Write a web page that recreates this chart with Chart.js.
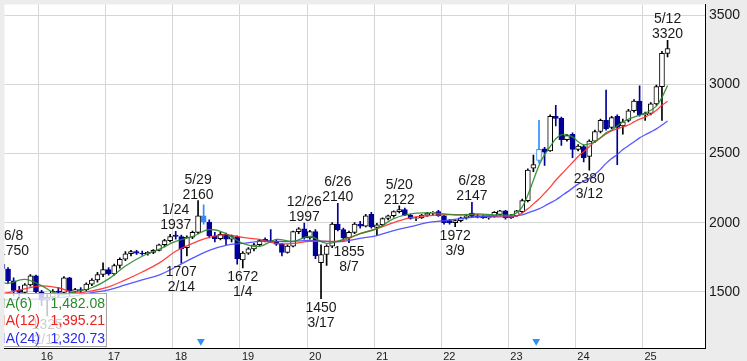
<!DOCTYPE html>
<html>
<head>
<meta charset="utf-8">
<script src="https://cdn.jsdelivr.net/npm/chart.js@4.4.1/dist/chart.umd.min.js"></script>
<style>
  html, body { margin: 0; padding: 0; background: #ececec; }
  #c { display: block; }
</style>
</head>
<body>
<canvas id="c" width="747" height="361" style="width:747px;height:361px"></canvas>
<script>
// monthly candles, 2015-06 .. 2025-05
const months = [
  '2015-06','2015-07','2015-08','2015-09','2015-10','2015-11','2015-12',
  '2016-01','2016-02','2016-03','2016-04','2016-05','2016-06','2016-07','2016-08','2016-09','2016-10','2016-11','2016-12',
  '2017-01','2017-02','2017-03','2017-04','2017-05','2017-06','2017-07','2017-08','2017-09','2017-10','2017-11','2017-12',
  '2018-01','2018-02','2018-03','2018-04','2018-05','2018-06','2018-07','2018-08','2018-09','2018-10','2018-11','2018-12',
  '2019-01','2019-02','2019-03','2019-04','2019-05','2019-06','2019-07','2019-08','2019-09','2019-10','2019-11','2019-12',
  '2020-01','2020-02','2020-03','2020-04','2020-05','2020-06','2020-07','2020-08','2020-09','2020-10','2020-11','2020-12',
  '2021-01','2021-02','2021-03','2021-04','2021-05','2021-06','2021-07','2021-08','2021-09','2021-10','2021-11','2021-12',
  '2022-01','2022-02','2022-03','2022-04','2022-05','2022-06','2022-07','2022-08','2022-09','2022-10','2022-11','2022-12',
  '2023-01','2023-02','2023-03','2023-04','2023-05','2023-06','2023-07','2023-08','2023-09','2023-10','2023-11','2023-12',
  '2024-01','2024-02','2024-03','2024-04','2024-05','2024-06','2024-07','2024-08','2024-09','2024-10','2024-11','2024-12',
  '2025-01','2025-02','2025-03','2025-04','2025-05'
];
const opens = [
  1700,1665,1580,1510,1495,1550,1615,
  1500,1440,1460,1505,1495,1600,1505,1515,1515,1555,1585,1625,
  1660,1630,1690,1735,1775,1790,1780,1775,1785,1800,1840,1870,
  1910,1900,1820,1895,1930,2050,2005,1905,1885,1915,1880,1900,
  1730,1780,1810,1840,1880,1870,1865,1845,1785,1830,1935,1955,
  1890,1935,1710,1770,1830,1990,1950,1890,1930,1990,1975,2060,
  1965,1985,2030,2050,2080,2095,2055,2030,2035,2055,2070,2080,
  2050,2015,2000,2015,2035,2070,2050,2045,2035,2045,2060,2085,
  2035,2050,2080,2160,2395,2450,2535,2520,2770,2755,2600,2640,
  2530,2550,2480,2590,2660,2740,2690,2770,2700,2740,2810,2880,
  2780,2790,2860,2985,3225
];
const highs = [
  1750,1675,1600,1540,1560,1625,1620,
  1510,1480,1515,1530,1610,1605,1525,1530,1565,1595,1640,1710,
  1675,1700,1745,1790,1800,1800,1795,1790,1805,1845,1880,1915,
  1937,1910,1905,1940,2160,2130,2020,1930,1930,1925,1910,1905,
  1790,1820,1850,1880,1890,1950,1880,1850,1840,1940,1965,1997,
  1945,1950,1840,1840,2000,2140,1960,1940,2000,2010,2060,2075,
  1995,2035,2055,2085,2122,2105,2060,2040,2060,2075,2080,2090,
  2055,2025,2020,2040,2055,2147,2060,2055,2050,2080,2090,2090,
  2060,2090,2170,2390,2490,2740,2545,2780,2850,2765,2640,2650,
  2565,2560,2600,2670,2750,2960,2770,2780,2750,2820,2890,2990,
  2800,2870,2995,3240,3320
];
const lows = [
  1640,1560,1470,1450,1485,1540,1490,
  1400,1325,1440,1460,1480,1470,1490,1495,1505,1545,1570,1610,
  1620,1620,1670,1725,1760,1770,1765,1765,1775,1795,1825,1860,
  1880,1707,1760,1885,1920,1990,1890,1860,1875,1840,1860,1700,
  1672,1770,1795,1830,1860,1855,1835,1760,1780,1825,1920,1880,
  1880,1740,1450,1690,1820,1940,1880,1855,1920,1960,1970,1960,
  1910,1975,2020,2040,2070,2050,2025,2015,2030,2045,2055,2045,
  1990,1990,1972,2005,2025,2040,2035,2030,2025,2040,2055,2025,
  2030,2045,2070,2150,2370,2430,2415,2515,2700,2560,2590,2470,
  2520,2440,2380,2580,2650,2670,2680,2420,2640,2730,2800,2770,
  2740,2780,2850,2740,3200
];
const closes = [
  1665,1580,1510,1495,1550,1615,1500,
  1440,1460,1505,1495,1600,1505,1515,1510,1555,1585,1625,1660,
  1630,1690,1735,1775,1790,1780,1775,1785,1800,1840,1870,1900,
  1900,1810,1895,1930,2050,2005,1905,1885,1915,1880,1900,1740,
  1780,1810,1840,1870,1868,1865,1845,1785,1830,1935,1955,1890,
  1935,1760,1770,1830,1990,1950,1890,1930,1990,1975,2050,1970,
  1985,2030,2050,2080,2095,2055,2030,2035,2055,2070,2075,2050,
  2000,2000,2015,2035,2050,2045,2040,2035,2045,2075,2085,2035,
  2050,2085,2160,2380,2420,2530,2510,2770,2755,2600,2630,2530,
  2555,2470,2590,2660,2740,2680,2760,2690,2730,2810,2880,2780,
  2790,2860,2985,3225,3260
];
// months drawn in light blue (adjusted), and split markers
const adjusted = ['2018-06', '2023-06'];
const splitDates = ['2018-06-01', '2023-06-01'];
const splitLevel = 1141;

// moving averages
const maMonths = [
  '2015-06','2015-07','2015-10','2016-01','2016-04','2016-07','2016-10',
  '2017-01','2017-04','2017-07','2017-10','2018-01','2018-04','2018-07','2018-10',
  '2019-01','2019-04','2019-07','2019-10','2020-01','2020-04','2020-07','2020-10',
  '2021-01','2021-04','2021-07','2021-10','2022-01','2022-04','2022-07','2022-10',
  '2023-01','2023-02','2023-03','2023-04','2023-05','2023-06','2023-07','2023-08','2023-09','2023-10','2023-11','2023-12',
  '2024-01','2024-02','2024-03','2024-04','2024-05','2024-06','2024-07','2024-08','2024-09','2024-10','2024-11','2024-12',
  '2025-01','2025-02','2025-03','2025-04','2025-05'
];
const ma6 = [
  1570,1560,1590,1545,1480,1500,1529,
  1593,1686,1757,1807,1864,1900,1950,1921,
  1850,1829,1879,1864,1900,1850,1879,1921,
  1957,2029,2064,2071,2064,2057,2064,2057,
  2057,2071,2114,2200,2307,2414,2493,2550,2607,2636,2636,2621,
  2586,2564,2571,2586,2614,2650,2671,2700,2729,2750,2764,2779,
  2793,2814,2843,2907,2993
];
const ma12 = [
  1490,1493,1521,1543,1529,1493,1507,
  1536,1586,1643,1707,1793,1850,1893,1914,
  1893,1879,1850,1850,1864,1864,1871,1921,
  1957,2000,2036,2050,2057,2057,2057,2050,
  2050,2050,2071,2100,2136,2171,2214,2257,2307,2350,2393,2436,
  2479,2514,2550,2586,2614,2643,2664,2679,2693,2707,2729,2750,
  2764,2786,2814,2850,2879
];
const ma24 = [
  1440,1443,1443,1450,1457,1471,1493,
  1514,1550,1586,1621,1679,1743,1800,1836,
  1850,1864,1864,1864,1871,1864,1864,1886,
  1907,1943,1971,2000,2014,2029,2043,2043,
  2043,2050,2057,2071,2086,2100,2121,2143,2164,2193,2221,2250,
  2279,2300,2321,2350,2386,2429,2464,2493,2529,2557,2586,2614,
  2636,2657,2679,2707,2736
];

// high / low notes
const noteMonths = ['2015-06','2016-02','2018-01','2018-02','2018-05','2019-01','2019-12','2020-03','2020-06','2020-08','2021-05','2022-03','2022-06','2024-03','2025-05'];
const noteDates  = ['6/8','2/12','1/24','2/14','5/29','1/4','12/26','3/17','6/26','8/7','5/20','3/9','6/28','3/12','5/12'];
const notePrices = [1750,1325,1937,1707,2160,1672,1997,1450,2140,1855,2122,1972,2147,2380,3320];
const noteSide   = ['high','low','high','low','high','low','high','low','high','low','high','low','high','low','high'];

const legendNames  = ['MA(6)', 'MA(12)', 'MA(24)'];
const legendValues = ['1,482.08', '1,395.21', '1,320.73'];

const yearTicks = [2016, 2017, 2018, 2019, 2020, 2021, 2022, 2023, 2024, 2025];
const priceTicks = [1500, 2000, 2500, 3000, 3500];

const NAVY = '#000096';
const LBLUE = '#2f8dff';
const GREEN = 'rgba(40,140,40,0.9)';
const RED = 'rgba(255,45,45,0.9)';
const BLUE = 'rgba(70,70,255,0.9)';
const FONT = '"Liberation Sans", Arial, sans-serif';

function monthX(s) {
  const p = s.split('-').map(Number);
  if (p.length === 3) return p[0] + (p[1] - 1) / 12 + (p[2] - 1) / 365;
  return p[0] + (p[1] - 0.5) / 12;
}

const isUp = months.map((m, i) => closes[i] >= opens[i]);
const isAdj = months.map(m => adjusted.includes(m));
const edgeColor = months.map((m, i) => isAdj[i] ? LBLUE : (isUp[i] ? '#000' : NAVY));
const fillColor = months.map((m, i) => isUp[i] ? '#fff' : (isAdj[i] ? LBLUE : NAVY));

function maData(arr) {
  return maMonths.map((m, i) => ({ x: monthX(m), y: arr[i] }));
}

const bgPlugin = {
  id: 'bg',
  beforeDraw(chart) {
    const { ctx, chartArea: a } = chart;
    ctx.save();
    ctx.fillStyle = '#ececec';
    ctx.fillRect(0, 0, chart.width, chart.height);
    ctx.fillStyle = '#fff';
    ctx.fillRect(a.left, a.top, a.right - a.left, a.bottom - a.top);
    ctx.restore();
  }
};

const notesPlugin = {
  id: 'notes',
  afterDatasetsDraw(chart) {
    const { ctx, scales: { x, y }, chartArea } = chart;
    ctx.save();
    ctx.beginPath();
    ctx.rect(chartArea.left, chartArea.top, chartArea.right - chartArea.left, chartArea.bottom - chartArea.top);
    ctx.clip();
    ctx.font = '14px ' + FONT;
    ctx.fillStyle = '#1a1a1a';
    ctx.textAlign = 'center';
    ctx.textBaseline = 'alphabetic';
    noteMonths.forEach((m, i) => {
      const px = Math.max(x.getPixelForValue(monthX(m)), chartArea.left + 9);
      const py = y.getPixelForValue(notePrices[i]);
      if (noteSide[i] === 'high') {
        ctx.fillText(String(notePrices[i]), px, py - 2);
        ctx.fillText(noteDates[i], px, py - 17);
      } else {
        ctx.fillText(String(notePrices[i]), px, py + 13);
        ctx.fillText(noteDates[i], px, py + 28);
      }
    });

    // MA legend box, bottom left
    ctx.fillStyle = 'rgba(255,255,255,0.78)';
    ctx.fillRect(-2, 293, 109, 53);
    ctx.strokeStyle = '#a8a8a8';
    ctx.lineWidth = 1;
    ctx.strokeRect(-2.5, 293.5, 109, 53);
    const colors = ['#2a8a2a', '#ee2020', '#2a2aee'];
    legendNames.forEach((n, i) => {
      const by = 307.5 + i * 17.5;
      ctx.fillStyle = colors[i];
      ctx.textAlign = 'left';
      ctx.fillText(n, -6, by);
      ctx.textAlign = 'right';
      ctx.fillText(legendValues[i], 105, by);
    });
    ctx.restore();
  }
};

new Chart(document.getElementById('c'), {
  type: 'bar',
  data: {
    datasets: [
      {
        type: 'line',
        data: splitDates.map(d => ({ x: monthX(d), y: splitLevel })),
        showLine: false,
        pointStyle: 'triangle',
        rotation: 180,
        pointRadius: 4.5,
        pointBackgroundColor: LBLUE,
        pointBorderColor: LBLUE,
        pointBorderWidth: 0,
        order: 0
      },
      {
        type: 'line', data: maData(ma6), borderColor: GREEN, borderWidth: 1.3,
        pointRadius: 0, tension: 0.4, fill: false, order: 1
      },
      {
        type: 'line', data: maData(ma12), borderColor: RED, borderWidth: 1.3,
        pointRadius: 0, tension: 0.4, fill: false, order: 2
      },
      {
        type: 'line', data: maData(ma24), borderColor: BLUE, borderWidth: 1.3,
        pointRadius: 0, tension: 0.4, fill: false, order: 3
      },
      {
        type: 'bar',
        data: months.map((m, i) => ({ x: monthX(m), y: [opens[i], closes[i]] })),
        backgroundColor: fillColor,
        borderColor: edgeColor,
        borderWidth: 1,
        borderSkipped: false,
        barThickness: 5,
        grouped: false,
        order: 5
      },
      {
        type: 'bar',
        data: months.map((m, i) => ({ x: monthX(m), y: [lows[i], highs[i]] })),
        backgroundColor: edgeColor,
        borderWidth: 0,
        barThickness: 1,
        grouped: false,
        order: 6
      }
    ]
  },
  options: {
    responsive: false,
    animation: false,
    layout: { padding: 0 },
    plugins: { legend: { display: false }, tooltip: { enabled: false } },
    scales: {
      x: {
        type: 'linear',
        min: 2016 - 34.5 / 67.5,
        max: 2016 + (705 - 34.5) / 67.5,
        offset: false,
        afterBuildTicks: s => { s.ticks = yearTicks.map(v => ({ value: v })); },
        afterFit: s => { s.height = 13; s.paddingLeft = 0; s.paddingRight = 0; },
        grid: { color: '#d6d6d6', lineWidth: 1, drawTicks: false, offset: false },
        border: { display: true, color: '#000', width: 1 },
        ticks: {
          font: { family: FONT, size: 11 },
          color: '#1a1a1a',
          padding: 2,
          align: 'start',
          labelOffset: 2,
          maxRotation: 0,
          autoSkip: false,
          callback: v => String(v - 2000)
        }
      },
      y: {
        type: 'linear',
        position: 'right',
        min: 1093,
        max: 3579,
        afterBuildTicks: s => { s.ticks = priceTicks.map(v => ({ value: v })); },
        afterFit: s => { s.width = 42; s.paddingTop = 0; s.paddingBottom = 0; },
        grid: { color: '#d6d6d6', lineWidth: 1, drawTicks: false },
        border: { display: true, color: '#000', width: 1 },
        ticks: {
          font: { family: FONT, size: 14 },
          color: '#1a1a1a',
          padding: 4,
          callback: v => String(v)
        }
      }
    }
  },
  plugins: [bgPlugin, notesPlugin]
});
</script>
</body>
</html>
